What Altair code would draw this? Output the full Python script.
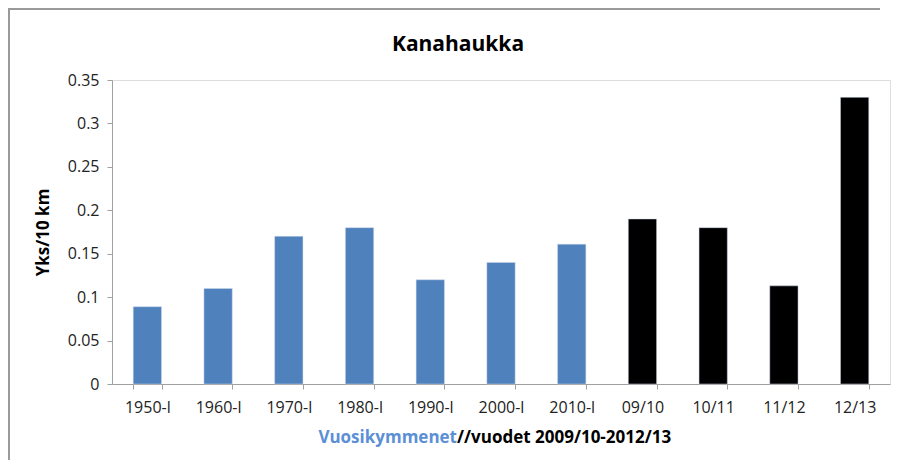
import altair as alt
import pandas as pd

categories = ["1950-l", "1960-l", "1970-l", "1980-l", "1990-l", "2000-l", "2010-l",
              "09/10", "10/11", "11/12", "12/13"]
values = [0.089, 0.11, 0.17, 0.18, 0.12, 0.14, 0.161, 0.19, 0.18, 0.113, 0.33]
groups = ["decade"] * 7 + ["season"] * 4
colors = {"decade": "#4F81BD", "season": "#000000"}
y_ticks = [0, 0.05, 0.1, 0.15, 0.2, 0.25, 0.3, 0.35]
title_text = "Kanahaukka"

df = pd.DataFrame({"cat": categories, "val": values, "grp": groups})

W, H = 778, 304
FONT = "Open Sans"

bars = alt.Chart(df).mark_bar(stroke="#cfd8e8", strokeWidth=0.5).encode(
    x=alt.X("cat:N", sort=categories,
            scale=alt.Scale(paddingInner=0.6, paddingOuter=0.3),
            axis=alt.Axis(title=None, labelAngle=0, tickBand="extent",
                          labelFontSize=16, labelFont=FONT, labelColor="#222",
                          labelPadding=10, tickSize=5, domainColor="#a0a0a0",
                          tickColor="#a0a0a0")),
    y=alt.Y("val:Q", scale=alt.Scale(domain=[0, 0.35], nice=False),
            axis=alt.Axis(title="Yks/10 km", values=y_ticks, grid=False,
                          format="~g",
                          labelFontSize=16, labelFont=FONT, labelColor="#222",
                          labelPadding=8, tickSize=5, domainColor="#a0a0a0",
                          tickColor="#a0a0a0", titleFont=FONT, titleFontSize=17,
                          titleFontWeight="bold", titleColor="#000", titlePadding=15)),
    color=alt.Color("grp:N", scale=alt.Scale(domain=list(colors.keys()),
                                             range=list(colors.values())),
                    legend=None),
)

title = alt.Chart(pd.DataFrame({"t": [title_text]})).mark_text(
    align="center", baseline="middle", font=FONT, fontSize=21, fontWeight="bold",
    color="#000").encode(text="t:N", x=alt.value(346), y=alt.value(-35))

xt1 = alt.Chart(pd.DataFrame({"t": ["Vuosikymmenet"]})).mark_text(
    align="right", baseline="middle", font=FONT, fontSize=17, fontWeight="bold",
    color="#5b8fd6").encode(text="t:N", x=alt.value(345), y=alt.value(H + 54))
xt2 = alt.Chart(pd.DataFrame({"t": ["//vuodet 2009/10-2012/13"]})).mark_text(
    align="left", baseline="middle", font=FONT, fontSize=17, fontWeight="bold",
    color="#000").encode(text="t:N", x=alt.value(345), y=alt.value(H + 54))

frame_top = alt.Chart(pd.DataFrame({"a": [0]})).mark_rule(
    color="#9a9a9a", strokeWidth=2).encode(
    x=alt.value(-104), x2=alt.value(W - 10), y=alt.value(-71), y2=alt.value(-71))
frame_left = alt.Chart(pd.DataFrame({"a": [0]})).mark_rule(
    color="#9a9a9a", strokeWidth=2).encode(
    x=alt.value(-103), x2=alt.value(-103), y=alt.value(-72), y2=alt.value(H + 76))

chart = alt.layer(bars, title, xt1, xt2, frame_top, frame_left).properties(
    width=W, height=H,
    padding={"left": 104, "top": 72, "right": 3, "bottom": 76},
    autosize=alt.AutoSizeParams(type="none"),
).configure_view(stroke=None).configure(background="white")

chart.save("out.html", embed_options={"renderer": "svg", "actions": False})
